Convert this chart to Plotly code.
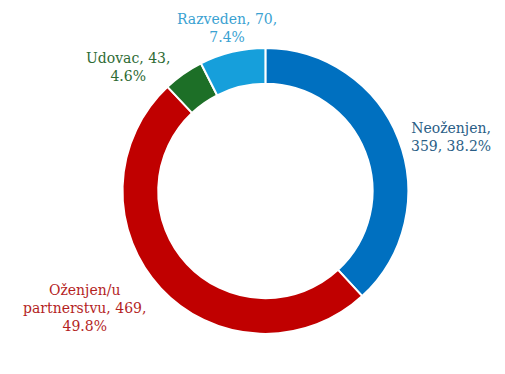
import plotly.graph_objects as go

categories = ["Neoženjen", "Oženjen/u partnerstvu", "Udovac", "Razveden"]
values = [359, 469, 43, 70]
slice_colors = ["#0070C0", "#C00000", "#1D6F27", "#169FDB"]
text_colors = ["#2A5E86", "#B41F1F", "#2E6B34", "#3AA2D2"]

# label layout (pixel centers in the 505x374 figure) and line breaks
label_lines = [
    ["Neoženjen,", "{v}, {p}"],
    ["Oženjen/u", "partnerstvu, {v},", "{p}"],
    ["Udovac, {v},", "{p}"],
    ["Razveden, {v},", "{p}"],
]
label_pos = [(451, 137), (84, 308), (128, 67), (227, 28)]

W, H = 505, 374
total = sum(values)

fig = go.Figure()
fig.add_trace(go.Pie(
    labels=categories,
    values=values,
    sort=False,
    direction="clockwise",
    rotation=0,
    hole=0.75,
    marker=dict(colors=slice_colors, line=dict(color="white", width=2)),
    textinfo="none",
    hoverinfo="label+value+percent",
    showlegend=False,
    domain=dict(x=[122.5 / W, 408.3 / W], y=[(183 - 143) / H, (183 + 143) / H]),
))

for cat, v, lines, (px, py), col in zip(categories, values, label_lines, label_pos, text_colors):
    pct = f"{v / total * 100:.1f}%"
    txt = "<br>".join(l.format(v=v, p=pct) for l in lines)
    fig.add_annotation(
        x=px / W, y=1 - py / H, xref="paper", yref="paper",
        text=txt, showarrow=False, align="center",
        xanchor="center", yanchor="middle",
        font=dict(family="DejaVu Serif, Liberation Serif, serif", size=14, color=col),
    )

fig.update_layout(
    width=W, height=H,
    margin=dict(l=0, r=0, t=0, b=0),
    paper_bgcolor="white",
    plot_bgcolor="white",
)

fig.write_html(
    "out.html",
    config={"displayModeBar": False},
    post_script="document.body.style.margin='0';",
)
